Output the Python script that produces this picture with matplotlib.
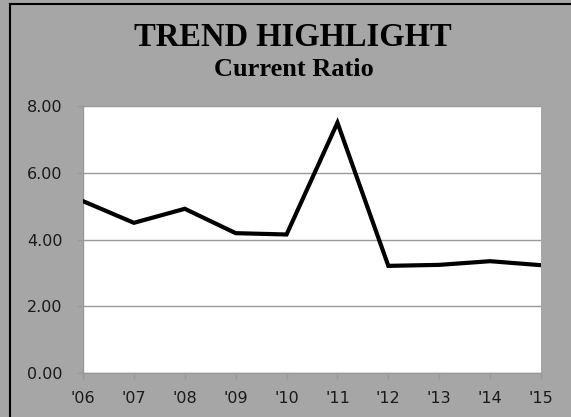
import matplotlib
matplotlib.use("Agg")
import matplotlib.pyplot as plt
from matplotlib.lines import Line2D

years = ["'06", "'07", "'08", "'09", "'10", "'11", "'12", "'13", "'14", "'15"]
current_ratio = [5.15, 4.50, 4.92, 4.19, 4.15, 7.50, 3.21, 3.24, 3.35, 3.23]
yticks = [0, 2, 4, 6, 8]

bg = '#a6a6a6'
grid = '#999999'

fig = plt.figure(figsize=(5.71, 4.17), dpi=100, facecolor=bg)
# plot area: x 83..541 px, y 106..373 px
ax = fig.add_axes([83 / 571, 1 - 373 / 417, 458 / 571, 267 / 417])
ax.set_facecolor('white')

x = list(range(len(years)))
ax.plot(x, current_ratio, color='black', lw=3, solid_joinstyle='miter', zorder=3)

ax.set_xlim(0, len(years) - 1)
ax.set_ylim(0, 8)
ax.set_xticks(x)
ax.set_xticklabels(years)
ax.set_yticks(yticks)
ax.set_yticklabels(['%.2f' % v for v in yticks])

ax.grid(axis='y', color=grid, lw=1)
ax.set_axisbelow(True)
for s in ['top', 'right']:
    ax.spines[s].set_visible(False)
for s in ['left', 'bottom']:
    ax.spines[s].set_color(grid)
    ax.spines[s].set_linewidth(1)
ax.tick_params(axis='both', colors=grid, labelcolor='#1a1a1a', length=4.3, width=1,
               labelsize=11.5)
ax.tick_params(axis='y', pad=10.5)
ax.tick_params(axis='x', pad=8.5)
for lab in ax.get_xticklabels() + ax.get_yticklabels():
    lab.set_family('DejaVu Sans')

fig.text(293 / 571, 1 - 45.5 / 417, 'TREND HIGHLIGHT', ha='center', va='baseline',
         family='Liberation Serif', weight='bold', fontsize=23.5)
fig.text(294 / 571, 1 - 76 / 417, 'Current Ratio', ha='center', va='baseline',
         family='Liberation Serif', weight='bold', fontsize=19)

# black frame lines on top and left
fig.add_artist(Line2D([10 / 571, 10 / 571], [0, 1 - 4 / 417], transform=fig.transFigure,
                      color='black', lw=1.5))
fig.add_artist(Line2D([10 / 571, 1], [1 - 4 / 417, 1 - 4 / 417], transform=fig.transFigure,
                      color='black', lw=1.5))

fig.savefig('out.png', dpi=100, facecolor=bg)
